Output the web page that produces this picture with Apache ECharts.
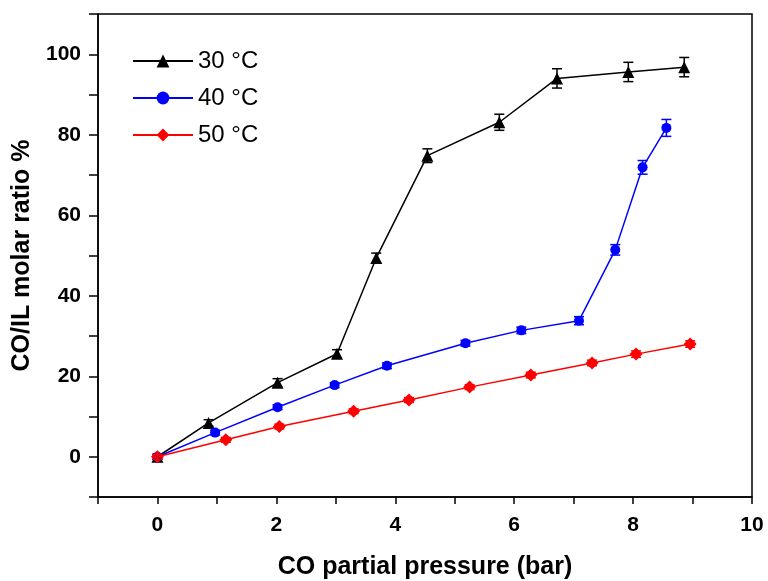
<!DOCTYPE html>
<html><head><meta charset="utf-8">
<script src="https://cdn.jsdelivr.net/npm/echarts@6/dist/echarts.min.js"></script>
<style>html,body{margin:0;padding:0;background:#fff}#c{width:768px;height:581px}</style>
</head><body><div id="c"></div>
<script>
// 30 °C
const x30 = [0, 0.86, 2.02, 3.02, 3.68, 4.54, 5.75, 6.72, 7.92, 8.86];
const y30 = [0, 8.4, 18.4, 25.6, 49.4, 74.8, 83.1, 94.0, 95.6, 96.8];
const e30 = [0.6, 0.8, 1.0, 1.0, 1.2, 1.7, 2.0, 2.4, 2.4, 2.4];
// 40 °C
const x40 = [0, 0.97, 2.02, 2.98, 3.86, 5.18, 6.12, 7.09, 7.70, 8.16, 8.56];
const y40 = [0, 6.0, 12.3, 17.8, 22.6, 28.2, 31.4, 33.8, 51.4, 71.9, 81.7];
const e40 = [0.6, 0.6, 0.6, 0.6, 0.7, 0.7, 0.8, 1.0, 1.3, 1.7, 2.1];
// 50 °C
const x50 = [0, 1.15, 2.05, 3.30, 4.23, 5.25, 6.28, 7.31, 8.05, 8.96];
const y50 = [0, 4.2, 7.5, 11.3, 14.1, 17.3, 20.3, 23.3, 25.5, 28.0];
const e50 = [0.6, 0.6, 0.6, 0.6, 0.6, 0.6, 0.7, 0.7, 0.8, 0.8];

const names = ['30 °C', '40 °C', '50 °C'];
const colors = ['#000000', '#0000ff', '#ff0000'];
const symbols = ['triangle', 'circle', 'diamond'];
const symbolSizes = [12, 10, 13];
const xTickLabels = ['0', '2', '4', '6', '8', '10'];
const yTickLabels = ['0', '20', '40', '60', '80', '100'];

const FONT = "'Liberation Sans',Arial,sans-serif";
const xs = [x30, x40, x50], ys = [y30, y40, y50], es = [e30, e40, e50];

function pairs(xa, ya) { return xa.map((v, i) => [v, ya[i]]); }
function triples(xa, ya, ea) { return xa.map((v, i) => [v, ya[i], ea[i]]); }

function errRender(color) {
  return function (params, api) {
    const x = api.value(0), y = api.value(1), e = api.value(2);
    const t = api.coord([x, y + e]), b = api.coord([x, y - e]);
    const hw = 5;
    const st = { stroke: color, lineWidth: 1.5 };
    return { type: 'group', children: [
      { type: 'line', shape: { x1: t[0], y1: t[1], x2: b[0], y2: b[1] }, style: st },
      { type: 'line', shape: { x1: t[0] - hw, y1: t[1], x2: t[0] + hw, y2: t[1] }, style: st },
      { type: 'line', shape: { x1: b[0] - hw, y1: b[1], x2: b[0] + hw, y2: b[1] }, style: st }
    ]};
  };
}

const series = [];
for (let i = 0; i < 3; i++) {
  series.push({
    name: names[i], type: 'line', data: pairs(xs[i], ys[i]),
    symbol: symbols[i], symbolSize: symbolSizes[i], showAllSymbol: true,
    lineStyle: { color: colors[i], width: 1.5 },
    itemStyle: { color: colors[i] }, z: 3, animation: false
  });
  series.push({
    name: names[i] + ' err', type: 'custom', data: triples(xs[i], ys[i], es[i]),
    renderItem: errRender(colors[i]), encode: { x: 0, y: 1 }, z: 4, animation: false, silent: true
  });
}

const chart = echarts.init(document.getElementById('c'), null, { renderer: 'canvas' });
chart.setOption({
  backgroundColor: '#fff',
  animation: false,
  grid: { left: 98, right: 16, top: 14, bottom: 84, show: true, borderColor: '#000', borderWidth: 1.5,
          containLabel: false, outerBoundsMode: 'none' },
  legend: {
    data: names, orient: 'vertical', left: 127, top: 44, itemGap: 13,
    itemWidth: 60, itemHeight: 16,
    textStyle: { fontFamily: FONT, fontSize: 24, color: '#000' }
  },
  xAxis: {
    type: 'value', min: -1, max: 10, interval: 1,
    name: 'CO partial pressure (bar)', nameLocation: 'middle', nameGap: 58,
    nameTextStyle: { fontFamily: FONT, fontWeight: 'bold', fontSize: 25, color: '#000' },
    axisLine: { onZero: false, lineStyle: { color: '#000', width: 1.5 } },
    axisTick: { inside: false, length: 7, lineStyle: { color: '#000', width: 1.5 } },
    splitLine: { show: false },
    axisLabel: {
      margin: 18, color: '#000', fontFamily: FONT, fontWeight: 'bold', fontSize: 21,
      formatter: v => { const s = String(v); return xTickLabels.includes(s) ? s : ''; }
    }
  },
  yAxis: {
    type: 'value', min: -10, max: 110, interval: 10,
    name: 'CO/IL molar ratio %', nameLocation: 'middle', nameGap: 56,
    nameTextStyle: { fontFamily: FONT, fontWeight: 'bold', fontSize: 25, color: '#000' },
    axisLine: { onZero: false, lineStyle: { color: '#000', width: 1.5 } },
    axisTick: { inside: false, length: 9, lineStyle: { color: '#000', width: 1.5 } },
    splitLine: { show: false },
    axisLabel: {
      margin: 17, color: '#000', fontFamily: FONT, fontWeight: 'bold', fontSize: 21,
      formatter: v => { const s = String(v); return yTickLabels.includes(s) ? s : ''; }
    }
  },
  series: series
});
</script></body></html>
